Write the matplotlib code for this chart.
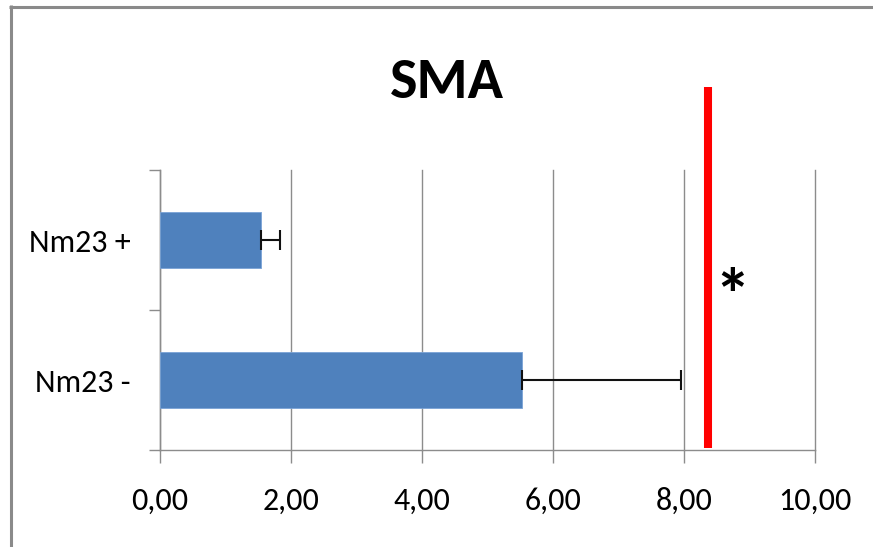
import matplotlib.pyplot as plt
from matplotlib.lines import Line2D
import numpy as np

plt.rcParams['font.family'] = ['Carlito', 'DejaVu Sans']

categories = ['Nm23 -', 'Nm23 +']
means = [5.52, 1.54]
errors = [2.43, 0.29]
xticks = [0, 2, 4, 6, 8, 10]
xtick_labels = ['0,00', '2,00', '4,00', '6,00', '8,00', '10,00']
ref_x = 8.37
star_x = 8.73

fig = plt.figure(figsize=(8.73, 5.47), dpi=100)
ax = fig.add_axes([160/873, 97/547, 655/873, 280/547])

y = np.arange(len(categories))
ax.barh(y, means, height=0.4, color='#4f81bd', edgecolor='#7aa3d6', linewidth=0.6, zorder=3)
ax.errorbar(means, y, xerr=[np.zeros(len(errors)), errors], fmt='none',
            ecolor='#111111', elinewidth=1.5, capsize=7.3, capthick=1.5, zorder=4)

ax.set_xlim(0, 10)
ax.set_ylim(-0.5, 1.5)
ax.set_xticks(xticks)
ax.set_xticklabels(xtick_labels, fontsize=23)
ax.set_yticks(y)
ax.set_yticklabels(categories, fontsize=23)
ax.set_yticks([-0.5, 0.5, 1.5], minor=True)
ax.tick_params(axis='y', which='major', length=0, pad=21)
ax.tick_params(axis='y', which='minor', length=8, color='#8c8c8c', width=1)
ax.tick_params(axis='x', length=9.5, color='#8c8c8c', width=1, pad=17)

ax.grid(axis='x', color='#8c8c8c', linewidth=1, zorder=0)
for gl in ax.get_xgridlines():
    gl.set_clip_on(False)
for side in ['top', 'right']:
    ax.spines[side].set_visible(False)
for side in ['left', 'bottom']:
    ax.spines[side].set_color('#8c8c8c')
    ax.spines[side].set_linewidth(1)

# significance bar and marker
ax.axvline(ref_x, ymin=0.007, ymax=1.296, color='#ff0000', linewidth=5.8,
           solid_capstyle='butt', clip_on=False, zorder=5)
ax.text(star_x, 0.61, '*', fontsize=52, fontweight='bold', ha='center', va='center_baseline')

fig.text(447/873, 1 - 82/547, 'SMA', fontsize=42, fontweight='bold', ha='center', va='center')

# frame lines on the left and top edges
fig.add_artist(Line2D([10.7/873, 10.7/873], [0, 1 - 5/547], transform=fig.transFigure,
                      color='#8a8a8a', linewidth=2.2, solid_capstyle='butt'))
fig.add_artist(Line2D([9/873, 1], [1 - 6.7/547, 1 - 6.7/547], transform=fig.transFigure,
                      color='#8a8a8a', linewidth=2.2, solid_capstyle='butt'))

fig.savefig('out.png', dpi=100)
